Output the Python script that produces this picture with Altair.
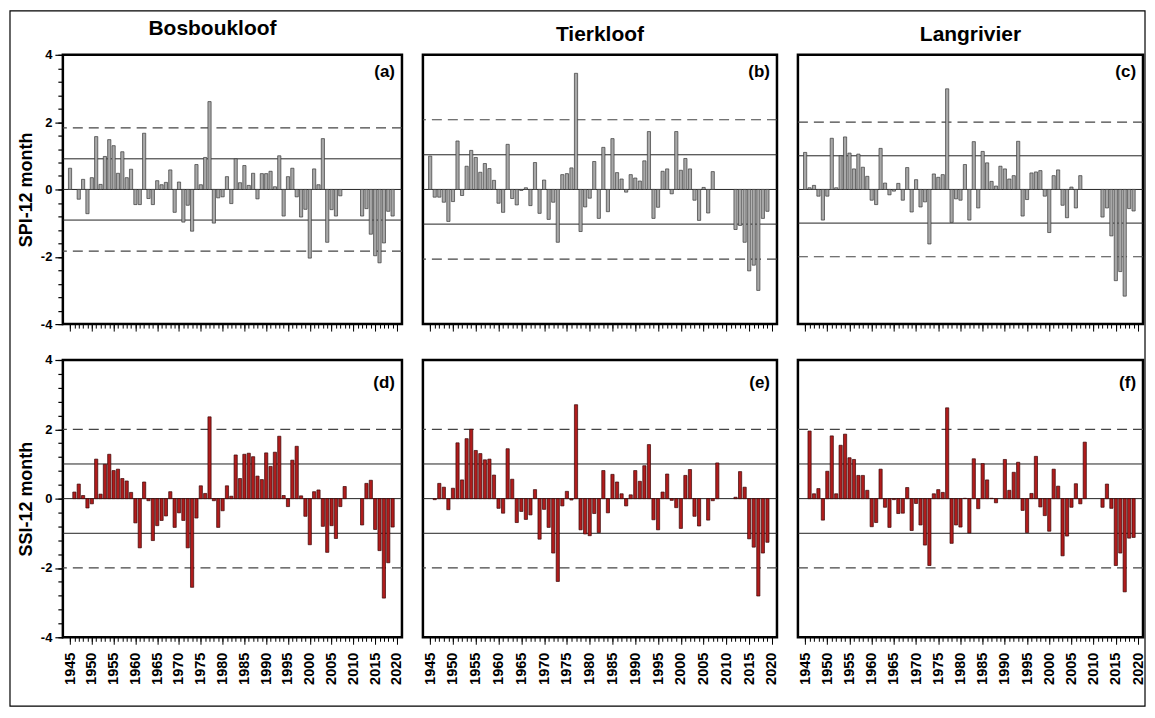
import altair as alt
import pandas as pd

FONT = "Liberation Sans"

# ---------------- data ----------------
years = list(range(1945, 2020))

columns = ["Bosboukloof", "Tierkloof", "Langrivier"]

spi_bosboukloof = [
    0.63, None, -0.29, 0.30, -0.72, 0.35, 1.57, 0.15, 0.98, 1.48,
    1.30, 0.48, 1.12, 0.35, 0.60, -0.45, -0.45, 1.67, -0.27, -0.45,
    0.26, 0.14, 0.21, 0.58, -0.68, 0.22, -0.97, -0.47, -1.24, 0.74,
    0.14, 0.95, 2.61, -1.00, -0.25, -0.22, 0.38, -0.42, 0.91, 0.20,
    0.71, 0.12, 0.48, -0.28, 0.47, 0.47, 0.54, 0.08, 1.00, -0.79,
    0.38, 0.63, -0.22, -0.82, -0.59, -2.04, 0.61, 0.14, 1.51, -1.57,
    -0.60, -0.79, -0.19, None, None, None, None, -0.79, -0.57, -1.33,
    -1.97, -2.18, -1.59, -0.65, -0.79]

spi_tierkloof = [
    0.99, -0.23, -0.23, -0.38, -0.95, -0.36, 1.44, -0.18, 0.69, 1.16,
    0.95, 0.51, 0.77, 0.62, 0.27, -0.41, -0.68, 1.34, -0.27, -0.46,
    -0.03, 0.05, -0.48, 0.80, -0.71, 0.28, -0.89, -0.38, -1.57, 0.44,
    0.47, 0.64, 3.45, -1.25, -0.52, -0.26, 0.83, -0.86, 1.25, -0.66,
    1.51, 0.50, 0.31, -0.08, 0.44, 0.34, 0.25, 0.85, 1.72, -0.86,
    -0.53, 0.54, 0.61, -0.13, 1.72, 0.57, 0.92, 0.61, -0.32, -0.92,
    0.06, -0.70, 0.53, None, None, None, None, -1.19, -1.07, -1.57,
    -2.42, -2.25, -3.00, -0.86, -0.65]

spi_langrivier = [
    1.10, 0.05, 0.12, -0.20, -0.91, -0.20, 1.52, 0.05, 1.00, 1.56,
    1.08, 0.61, 1.05, 0.66, 0.39, -0.32, -0.45, 1.22, 0.19, -0.16,
    -0.05, 0.18, -0.32, 0.65, -0.67, 0.29, -0.52, -0.37, -1.62, 0.46,
    0.36, 0.44, 2.99, -0.98, -0.28, -0.32, 0.74, -0.91, 1.42, -0.55,
    1.13, 0.79, 0.24, 0.10, 0.69, 0.61, 0.31, 0.41, 1.43, -0.79,
    -0.30, 0.49, 0.52, 0.56, -0.20, -1.28, 0.41, 0.58, -0.47, -0.84,
    0.07, -0.55, 0.41, None, None, None, None, -0.82, -0.55, -1.38,
    -2.71, -2.44, -3.17, -0.57, -0.64]

ssi_bosboukloof = [
    None, 0.19, 0.42, 0.09, -0.27, -0.15, 1.14, 0.13, 0.99, 1.28,
    0.81, 0.85, 0.58, 0.51, 0.18, -0.70, -1.42, 0.48, -0.06, -1.21,
    -0.78, -0.63, -0.50, 0.20, -0.83, -0.41, -0.63, -1.42, -2.56, -0.56,
    0.37, 0.15, 2.36, -0.06, -0.83, -0.35, 0.37, 0.07, 1.26, 0.58,
    1.28, 1.31, 1.21, 0.65, 0.55, 1.32, 0.93, 1.34, 1.80, 0.09,
    -0.23, 1.11, 1.51, 0.08, -0.51, -1.33, 0.20, 0.25, -0.80, -1.55,
    -0.78, -1.15, -0.23, 0.35, None, None, None, -0.76, 0.44, 0.53,
    -0.89, -1.50, -2.87, -1.85, -0.82]

ssi_tierkloof = [
    None, -0.03, 0.44, 0.33, -0.32, 0.30, 1.61, 0.54, 1.73, 2.00,
    1.39, 1.30, 1.12, 1.14, 0.68, -0.28, -0.42, 1.44, 0.56, -0.69,
    -0.37, -0.60, -0.47, 0.26, -1.17, -0.31, -0.83, -1.57, -2.39, -0.21,
    0.21, -0.04, 2.71, -0.90, -1.02, -1.07, -0.43, -0.98, 0.81, -0.41,
    0.70, 0.48, 0.14, -0.21, 0.11, 0.81, 0.50, 0.95, 1.56, -0.61,
    -0.90, 0.19, 0.71, -0.05, -0.26, -0.86, 0.67, 0.84, -0.51, -0.79,
    None, -0.62, -0.06, 1.03, None, None, None, 0.04, 0.78, 0.33,
    -1.16, -1.40, -2.81, -1.57, -1.26]

ssi_langrivier = [
    None, 1.95, 0.14, 0.29, -0.62, 0.79, 1.81, 0.14, 1.54, 1.86,
    1.18, 1.13, 0.67, 0.67, 0.24, -0.81, -0.69, 0.85, -0.25, -0.83,
    -0.03, -0.43, -0.42, 0.32, -0.92, -0.14, -0.76, -1.34, -1.93, 0.14,
    0.26, 0.18, 2.62, -1.29, -0.76, -0.82, 0.01, -0.99, 1.15, -0.29,
    1.01, 0.54, 0.01, -0.12, None, 1.13, 0.24, 0.76, 1.05, -0.34,
    -0.98, 0.15, 1.22, -0.24, -0.49, -0.94, 0.85, 0.36, -1.65, -1.08,
    -0.25, 0.43, -0.15, 1.63, None, None, None, -0.25, 0.42, -0.28,
    -1.93, -1.57, -2.69, -1.14, -1.12]

# threshold lines (solid: moderate, dashed: severe), per panel
solid_a = [0.91, 0.0, -0.91]
dashed_a = [1.83, -1.83]
solid_b = [1.03, 0.0, -1.03]
dashed_b = [2.07, -2.07]
solid_std = [1.0, 0.0, -1.0]
dashed_std = [2.0, -2.0]

panel_labels = ["(a)", "(b)", "(c)", "(d)", "(e)", "(f)"]
x_major_ticks = list(range(1945, 2021, 5))
x_minor_ticks = list(range(1945, 2021))
y_major_ticks = [-4, -2, 0, 2, 4]
y_minor_ticks = [round(-4 + 0.4 * i, 1) for i in range(21)]

# ---------------- chart ----------------
xscale = alt.Scale(domain=[1944.5, 2020], nice=False, zero=False)
yscale = alt.Scale(domain=[-4, 4], nice=False)


def make_panel(vals, label, row, solid, dashed, width, height,
               left=False, title=None, title_dx=0, ytitle=None, frame=False):
    df = pd.DataFrame({"year": years, "value": vals}).dropna()
    bottom = row == "bottom"
    if bottom:
        fill, stroke = "#b01c1c", "#3a0606"
    else:
        fill, stroke = "#a8a8a8", "#3a3a3a"

    major_x = alt.Axis(orient="bottom", values=x_major_ticks, labels=bottom,
                       format="d", labelAngle=-90, labelFontSize=14.5,
                       labelFontWeight="bold", labelFont=FONT,
                       labelColor="black", labelPadding=8, labelFlush=False,
                       labelOverlap=False, tickSize=7, tickWidth=1,
                       tickColor="black", domain=False, grid=False, title=None)
    minor_x = alt.Axis(orient="bottom", values=x_minor_ticks, labels=False,
                       tickSize=4, tickWidth=1, tickColor="black", domain=False,
                       grid=False, title=None)
    if left:
        major_y = alt.Axis(orient="left", values=y_major_ticks,
                           labelExpr="'' + datum.value", labelFontSize=13,
                           labelFontWeight="bold", labelFont=FONT,
                           labelColor="black", labelPadding=3, labelFlush=False,
                           tickSize=8, tickWidth=1.2, tickColor="black",
                           domain=False, grid=False, title=ytitle,
                           titleFont=FONT, titleFontSize=18,
                           titleFontWeight="bold", titleColor="black",
                           titlePadding=5)
        minor_y = alt.Axis(orient="left", values=y_minor_ticks, labels=False,
                           tickSize=5, tickWidth=1.2, tickColor="black",
                           domain=False, grid=False, title=None)
    else:
        major_y = None
        minor_y = None

    layers = []
    if frame:
        layers.append(
            alt.Chart(pd.DataFrame({"f": [0]}))
            .mark_rect(fill="transparent", stroke="black", strokeWidth=1.2)
            .encode(x=alt.value(-53), x2=alt.value(1085),
                    y=alt.value(-350), y2=alt.value(347))
        )
    layers.append(
        alt.Chart(pd.DataFrame({"v": solid}))
        .mark_rule(color="#222222", strokeWidth=1)
        .encode(y=alt.Y("v:Q", scale=yscale, axis=None))
    )
    layers.append(
        alt.Chart(pd.DataFrame({"v": dashed}))
        .mark_rule(color="#444444", strokeWidth=1.2, strokeDash=[10, 6])
        .encode(y=alt.Y("v:Q", scale=yscale, axis=None))
    )
    layers.append(
        alt.Chart(df)
        .mark_bar(orient="vertical", size=3.2, fill=fill, stroke=stroke,
                  strokeWidth=0.7)
        .encode(x=alt.X("year:Q", scale=xscale, axis=major_x),
                y=alt.Y("value:Q", scale=yscale, axis=major_y))
    )
    layers.append(
        alt.Chart(df)
        .mark_point(opacity=0)
        .encode(x=alt.X("year:Q", scale=xscale, axis=minor_x),
                y=alt.Y("value:Q", scale=yscale, axis=minor_y))
    )
    layers.append(
        alt.Chart(pd.DataFrame({"t": [label]}))
        .mark_text(font=FONT, fontSize=17, fontWeight="bold", align="right",
                   baseline="middle", color="black")
        .encode(x=alt.value(width - 7), y=alt.value(23 if bottom else 17),
                text="t:N")
    )
    props = dict(width=width, height=height)
    if title is not None:
        props["title"] = alt.TitleParams(
            text=title, font=FONT, fontSize=21, fontWeight="bold",
            color="black", anchor="middle", frame="group", offset=10,
            dx=title_dx)
    return alt.layer(*layers).resolve_axis(x="independent", y="independent").properties(**props)


W = [340, 355, 346]
H_TOP, H_BOT = 270, 278

pa = make_panel(spi_bosboukloof, panel_labels[0], "top", solid_a, dashed_a,
                W[0], H_TOP, left=True, title=columns[0], title_dx=-20,
                ytitle="SPI-12 month")
pb = make_panel(spi_tierkloof, panel_labels[1], "top", solid_b, dashed_b,
                W[1], H_TOP, title=columns[1])
pc = make_panel(spi_langrivier, panel_labels[2], "top", solid_std, dashed_std,
                W[2], H_TOP, title=columns[2])
pd_ = make_panel(ssi_bosboukloof, panel_labels[3], "bottom", solid_std,
                 dashed_std, W[0], H_BOT, left=True, ytitle="SSI-12 month",
                 frame=True)
pe = make_panel(ssi_tierkloof, panel_labels[4], "bottom", solid_std,
                dashed_std, W[1], H_BOT)
pf = make_panel(ssi_langrivier, panel_labels[5], "bottom", solid_std,
                dashed_std, W[2], H_BOT)

chart = (
    alt.concat(pa, pb, pc, pd_, pe, pf, columns=3,
               spacing={"row": 36, "column": 21}, bounds="flush")
    .properties(padding=0, background="white")
    .configure_view(stroke="black", strokeWidth=2.5)
)

chart.save("out.html", embed_options={"renderer": "svg", "actions": False})
